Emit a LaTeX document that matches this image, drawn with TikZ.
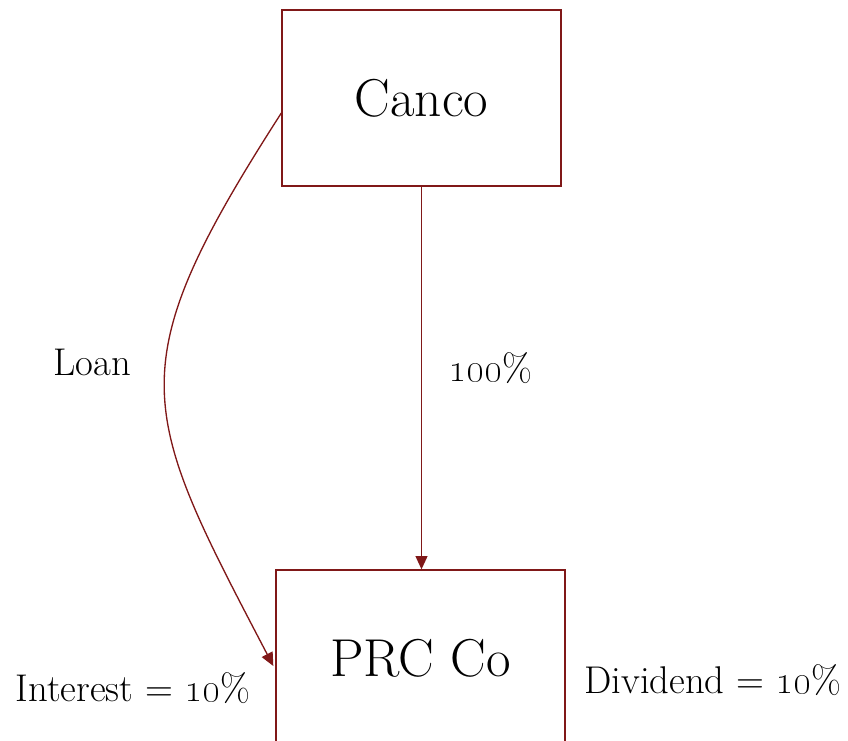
\documentclass[tikz,border=0pt]{standalone}
\usepackage{tikz}
\usetikzlibrary{arrows.meta}
\definecolor{linkred}{RGB}{128,24,24}
\tikzset{
    entity/.style={draw=linkred,line width=1pt,minimum width=279*0.75pt,minimum height=176*0.75pt,inner sep=0pt,font=\fontsize{40}{48}\selectfont},
    note/.style={inner sep=0pt,font=\fontsize{29}{35}\selectfont},
    link/.style={draw=linkred,line width=1pt,-{Triangle[length=10pt,width=9pt]}}
}

\begin{document}
\begin{tikzpicture}[x=0.75pt,y=-0.75pt]
    \useasboundingbox (0,0) rectangle (848,740);
    % boxes
        \node[entity] (canco) at (421.5,98){Canco};
        \node[entity,minimum width=289*0.75pt] (prc) at (420.5,658){PRC Co};
    % ownership
        \draw[link](canco.south)--(canco.south|-prc.north);
        \node[note] (share) at (490,368){\oldstylenums{100}\%};
    % loan
        \draw[link]([yshift=-11.25pt]canco.west) .. controls (116,370) and (139,409) .. ([xshift=-1.5pt,yshift=-6pt]prc.west);
        \node[note] (loan) at (92,362){Loan};
    % returns
        \node[note] (interest) at (133,688){Interest = \oldstylenums{10}\%};
        \node[note] (dividend) at (713,680){Dividend = \oldstylenums{10}\%};
\end{tikzpicture}
\end{document}
